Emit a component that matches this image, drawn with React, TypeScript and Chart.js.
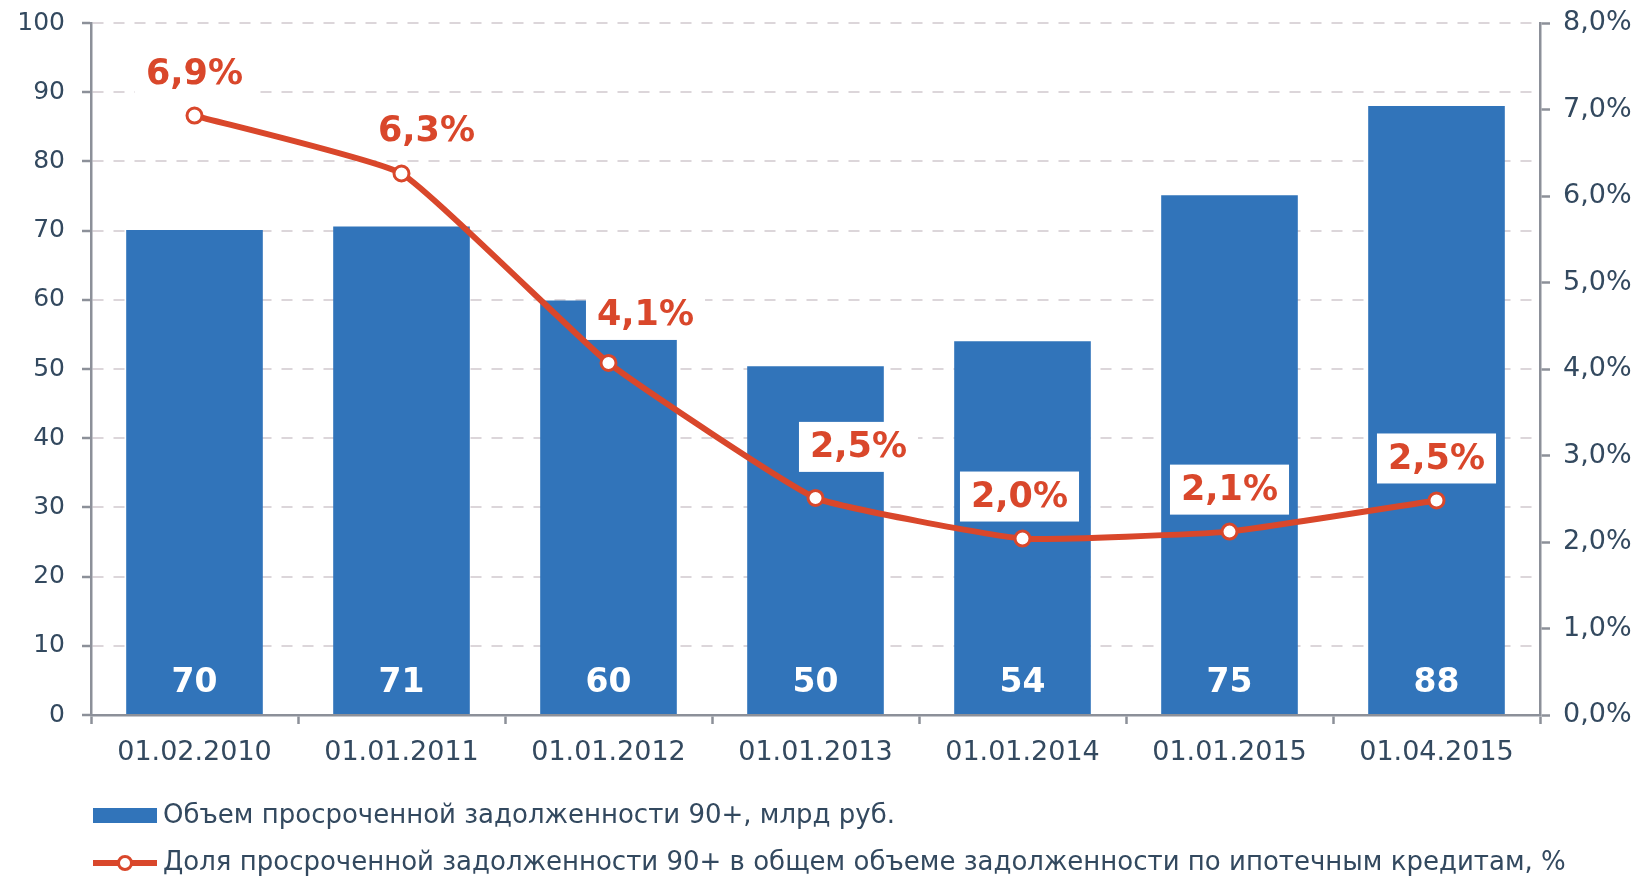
import React, { useEffect, useRef } from 'react';
import { Chart, registerables } from 'chart.js';

Chart.register(...registerables);

const categories = ['01.02.2010', '01.01.2011', '01.01.2012', '01.01.2013', '01.01.2014', '01.01.2015', '01.04.2015'];
const overdueVolume = [70.1, 70.6, 59.9, 50.4, 54.0, 75.1, 88.0];
const overdueShare = [6.93, 6.26, 4.07, 2.51, 2.04, 2.12, 2.48];
const leftTicks = [0, 10, 20, 30, 40, 50, 60, 70, 80, 90, 100];
const rightTicks = [0, 1, 2, 3, 4, 5, 6, 7, 8];
const legendLabels = [
  'Объем просроченной задолженности 90+, млрд руб.',
  'Доля просроченной задолженности 90+ в общем объеме задолженности по ипотечным кредитам, %',
];
// label offsets (dx, dy) from each line point
const shareLabelOffsets = [[0, -42], [25, -43], [37, -48], [43, -51], [-3, -42], [0, -42], [0, -42]];

const BLUE = '#3174BA';
const RED = '#D9472B';
const AXIS = '#8c9099';
const GRID = '#dcd6da';
const TEXT = '#33495f';
const FONT = '"DejaVu Sans", Verdana, sans-serif';

const fmtPct = (v: number) => v.toFixed(1).replace('.', ',') + '%';

const labelsPlugin = {
  id: 'customLabels',
  afterDatasetDraw(chart: any, args: any) {
    if (args.index !== 1) return;
    const ctx = chart.ctx;
    const lineMeta = chart.getDatasetMeta(0);
    ctx.save();
    ctx.font = `bold 35px ${FONT}`;
    lineMeta.data.forEach((pt: any, i: number) => {
      const text = fmtPct(overdueShare[i]);
      const [dx, dy] = shareLabelOffsets[i];
      const cx = pt.x + dx;
      const cy = pt.y + dy;
      const w = ctx.measureText(text).width + 22;
      ctx.fillStyle = '#ffffff';
      ctx.fillRect(cx - w / 2, cy - 25, w, 50);
    });
    ctx.restore();
  },
  afterDatasetsDraw(chart: any) {
    const ctx = chart.ctx;
    const barMeta = chart.getDatasetMeta(1);
    const lineMeta = chart.getDatasetMeta(0);
    const base = chart.scales.y.getPixelForValue(0);
    ctx.save();
    ctx.textAlign = 'center';
    ctx.textBaseline = 'middle';
    ctx.font = `bold 33px ${FONT}`;
    ctx.fillStyle = '#ffffff';
    barMeta.data.forEach((el: any, i: number) => {
      ctx.fillText(String(Math.round(overdueVolume[i])), el.x, base - 32);
    });
    ctx.font = `bold 35px ${FONT}`;
    ctx.fillStyle = RED;
    lineMeta.data.forEach((pt: any, i: number) => {
      const [dx, dy] = shareLabelOffsets[i];
      ctx.fillText(fmtPct(overdueShare[i]), pt.x + dx, pt.y + dy + 1);
    });
    ctx.restore();
  },
  afterDraw(chart: any) {
    const ctx = chart.ctx;
    const left = chart.chartArea.left + 2;
    const y1 = 816;
    const y2 = 863;
    ctx.save();
    ctx.fillStyle = BLUE;
    ctx.fillRect(left, y1 - 8, 64, 15);
    ctx.strokeStyle = RED;
    ctx.lineWidth = 6;
    ctx.beginPath();
    ctx.moveTo(left, y2);
    ctx.lineTo(left + 64, y2);
    ctx.stroke();
    ctx.beginPath();
    ctx.arc(left + 32, y2, 6.5, 0, Math.PI * 2);
    ctx.fillStyle = '#ffffff';
    ctx.fill();
    ctx.lineWidth = 3;
    ctx.stroke();
    ctx.font = `26px ${FONT}`;
    ctx.fillStyle = TEXT;
    ctx.textAlign = 'left';
    ctx.textBaseline = 'middle';
    ctx.fillText(legendLabels[0], left + 70, y1);
    ctx.fillText(legendLabels[1], left + 70, y2);
    ctx.restore();
  },
};

export default function App() {
  const canvasRef = useRef<HTMLCanvasElement | null>(null);

  useEffect(() => {
    if (!canvasRef.current) return;
    Chart.defaults.font.family = FONT;
    const chart = new Chart(canvasRef.current, {
      type: 'bar',
      data: {
        labels: categories,
        datasets: [
          {
            type: 'line',
            label: legendLabels[1],
            data: overdueShare,
            yAxisID: 'y1',
            borderColor: RED,
            borderWidth: 6,
            pointRadius: 7.5,
            pointBackgroundColor: '#ffffff',
            pointBorderColor: RED,
            pointBorderWidth: 3,
            tension: 0.12,
            order: 0,
          } as any,
          {
            type: 'bar',
            label: legendLabels[0],
            data: overdueVolume,
            yAxisID: 'y',
            backgroundColor: BLUE,
            categoryPercentage: 0.66,
            barPercentage: 1,
            order: 1,
          },
        ],
      },
      options: {
        animation: false,
        responsive: true,
        maintainAspectRatio: false,
        layout: { padding: { top: 23, left: 0, right: 0, bottom: 0 } },
        plugins: { legend: { display: false }, tooltip: { enabled: false } },
        scales: {
          x: {
            grid: {
              offset: true,
              drawOnChartArea: false,
              drawTicks: true,
              tickLength: 9,
              tickColor: AXIS,
              tickWidth: 2.5,
              color: AXIS,
            },
            border: { color: AXIS, width: 2.5 },
            ticks: { font: { size: 27 }, color: TEXT, padding: 13, maxRotation: 0 },
            afterFit: (s: any) => { s.height = 164; s.paddingLeft = 0; s.paddingRight = 0; },
          },
          y: {
            position: 'left',
            min: 0,
            max: 100,
            afterBuildTicks: (s: any) => { s.ticks = leftTicks.map((v) => ({ value: v })); },
            grid: {
              color: GRID,
              lineWidth: 2,
              tickLength: 9,
              tickColor: AXIS,
              tickWidth: 2.5,
            },
            border: { color: AXIS, width: 2.5, dash: [11, 10] },
            ticks: { font: { size: 25 }, color: TEXT, padding: 17 },
            afterFit: (s: any) => { s.width = 91; s.paddingTop = 0; s.paddingBottom = 0; },
          },
          y1: {
            position: 'right',
            min: 0,
            max: 8,
            afterBuildTicks: (s: any) => { s.ticks = rightTicks.map((v) => ({ value: v })); },
            grid: {
              drawOnChartArea: false,
              tickLength: 10,
              tickColor: AXIS,
              tickWidth: 2.5,
            },
            border: { color: AXIS, width: 2.5 },
            ticks: {
              font: { size: 27 },
              color: TEXT,
              padding: 13,
              callback: (v: any) => fmtPct(Number(v)),
            },
            afterFit: (s: any) => { s.width = 104; s.paddingTop = 0; s.paddingBottom = 0; },
          },
        },
      },
      plugins: [labelsPlugin],
    });
    return () => chart.destroy();
  }, []);

  return (
    <div style={{ position: 'absolute', left: 0, top: 0, width: 1644, height: 879, background: '#fff' }}>
      <canvas ref={canvasRef} />
    </div>
  );
}
